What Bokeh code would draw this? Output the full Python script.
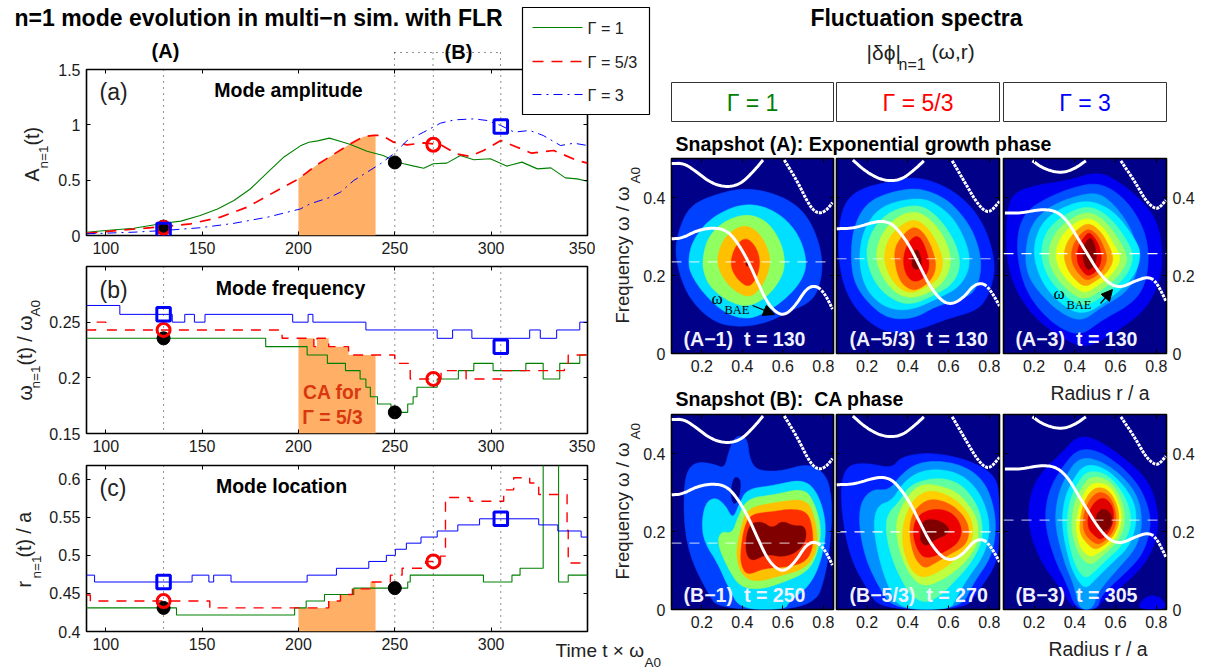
from math import pi
import numpy as np
from bokeh.plotting import figure
from bokeh.layouts import column
from bokeh.embed import file_html
from bokeh.resources import INLINE
from bokeh.core.properties import value
from bokeh.models import (Range1d, FixedTicker, LinearAxis, Span, InlineStyleSheet, Arrow, NormalHead)

# ---------- time traces ----------
X_TICKS = [100, 150, 200, 250, 300, 350]
X_LABELS_C = {100: "100", 150: "150", 200: "200", 250: "250", 300: "300", 350: ""}
A_TICKS = {0: "0", 0.5: "0.5", 1: "1", 1.5: "1.5"}
W_TICKS = {0.15: "0.15", 0.2: "0.2", 0.25: "0.25"}
R_TICKS = {0.4: "0.4", 0.45: "0.45", 0.5: "0.5", 0.55: "0.55", 0.6: "0.6"}
SNAP_TIMES = [130, 250, 270, 305]

amp_t_g = [90,100,114.6,130,139,149,158,166.5,175,184,192.5,201,205.4,210,216,222,227,235.6,244,249.4,254.6,260,265,270,277,284,291,299.6,308,316,324,331,338.5,344.6,350]
amp_g = [.03,.045,.066,.111,.13,.18,.24,.316,.42,.57,.71,.81,.843,.855,.88,.85,.822,.762,.723,.678,.648,.627,.608,.648,.654,.723,.684,.693,.627,.663,.602,.611,.521,.512,.491]
amp_t_r = [90,106,130,144,159.5,173.4,189,199.3,209.7,218.4,227,234,239,243.4,249.4,256.4,265,273.7,282,289,296,305,313.5,321,332.5,344.6,350]
amp_r = [.02,.045,.08,.105,.166,.256,.407,.503,.64,.735,.828,.895,.904,.904,.843,.819,.837,.822,.738,.714,.768,.858,.798,.744,.768,.678,.654]
amp_t_b = [90,114.6,130,149,166.5,184,201,206,216.6,221.8,228.7,235.6,242.5,249.4,256.4,265,273.7,281,291,298,305,312,320,327,336,343,350]
amp_b = [.015,.03,.045,.07,.11,.166,.24,.286,.346,.392,.497,.572,.648,.738,.858,.934,1.015,1.045,1.054,1.039,.994,.934,.949,.904,.813,.834,.813]

frq_t_g = [90,183,204.5,215,224.4,232,235,237.3,241,248,256.7,259.5,261.5,272,283,291,301,318,327,335.6,346,350]
frq_g = [.2355,.228,.2205,.213,.2065,.199,.1915,.183,.1765,.169,.1765,.183,.1915,.199,.2065,.213,.2065,.213,.199,.213,.2205]
frq_t_r = [90,94.7,100,191.5,208,209.6,215.7,226,250,258,274,287,306,338,340,350]
frq_r = [.243,.25,.243,.2355,.228,.2355,.228,.2205,.213,.199,.2065,.199,.2065,.213,.2205]
frq_t_b = [90,107.3,134.5,141,146,151.5,197,205,207.5,235,272,280,290,320,325.5,334,346,350]
frq_b = [.265,.257,.25,.257,.25,.257,.25,.257,.25,.243,.2355,.243,.2355,.243,.2355,.243,.25]

loc_t_g = [90,136.7,198,204,213.5,228.7,256.7,258,296,310.8,315,327,335,340,350]
loc_g = [.431,.4216,.431,.44,.4485,.457,.465,.474,.465,.474,.483,.7,.465,.474]
loc_t_r = [90,92,154,215.7,221.8,228,237.3,247.7,253.8,266,273.7,276.3,289,306.5,311.7,320,324.7,339.4,340,350]
loc_r = [.448,.44,.431,.44,.4485,.456,.465,.474,.483,.492,.499,.576,.571,.586,.602,.595,.58,.533,.49]
loc_t_b = [90,94.2,144.8,153.5,156,165,204.5,219.7,236.5,245.6,250.3,256,263.6,272,282.7,294,324.7,334.6,346.7,350]
loc_b = [.474,.465,.474,.465,.474,.465,.474,.483,.492,.5,.508,.516,.524,.532,.54,.548,.54,.532,.524]

mark_a = {"g": [(130, .08), (250, .66)], "r": [(130, .07), (270, .82)], "b": [(130, .05), (305, .985)]}
mark_w = {"g": [(130, .2355), (250, .169)], "r": [(130, .243), (270, .199)], "b": [(130, .257), (305, .228)]}
mark_l = {"g": [(130, .431), (250, .457)], "r": [(130, .44), (270, .492)], "b": [(130, .465), (305, .548)]}
CA_WINDOW = (200, 240)

# ---------- continuum curves (r, omega) ----------
G1_up_l = [(.05,.487),(.112,.488),(.178,.464),(.243,.438),(.317,.426),(.391,.434),(.457,.468),(.502,.496)]
G1_up_r = [(.607,.496),(.67,.443),(.719,.391),(.752,.366),(.784,.359),(.817,.368),(.845,.387)]
G1_main = [(.05,.294),(.104,.296),(.178,.316),(.26,.323),(.325,.315),(.375,.285),(.424,.242),(.473,.186),(.522,.131),(.571,.103),(.612,.099),(.661,.122),(.719,.169),(.768,.174),(.809,.152),(.845,.114)]
G2_up_l = [(.13,.496),(.2,.464),(.28,.443),(.364,.444),(.43,.47),(.479,.494)]
G2_up_r = [(.618,.494),(.675,.443),(.733,.391),(.774,.366),(.806,.363),(.85,.39)]
G2_main = [(.05,.32),(.135,.321),(.25,.34),(.315,.336),(.364,.31),(.413,.272),(.462,.22),(.512,.169),(.569,.133),(.618,.126),(.675,.144),(.724,.176),(.774,.181),(.814,.156),(.85,.122)]
G3_up_l = [(.192,.494),(.25,.473),(.331,.462),(.397,.473),(.454,.494)]
G3_up_r = [(.626,.494),(.692,.443),(.749,.391),(.79,.372),(.814,.373),(.847,.393)]
G3_main = [(.057,.36),(.135,.36),(.233,.37),(.307,.366),(.364,.34),(.413,.297),(.462,.255),(.512,.212),(.569,.178),(.626,.169),(.692,.185),(.757,.197),(.798,.186),(.847,.135)]
BAE_LEVELS = {"A1": .235, "A2": .243, "A3": .256, "B1": .17, "B2": .199, "B3": .229}

# ---------- contour outlines (r, omega) ----------
A1 = [
 [(.066,.272),(.096,.332),(.145,.379),(.243,.404),(.407,.426),(.571,.409),(.686,.374),(.752,.323),(.793,.255),(.793,.195),(.752,.135),(.62,.105),(.522,.079),(.391,.067),(.26,.079),(.145,.135),(.088,.203)],
 [(.132,.238),(.153,.289),(.243,.349),(.407,.387),(.555,.37),(.67,.315),(.722,.238),(.694,.186),(.604,.135),(.489,.097),(.407,.088),(.309,.105),(.211,.152),(.145,.203)],
 [(.202,.238),(.227,.297),(.309,.34),(.424,.359),(.522,.34),(.588,.289),(.612,.238),(.596,.195),(.522,.144),(.424,.118),(.325,.135),(.243,.169),(.211,.203)],
 [(.271,.238),(.301,.289),(.358,.319),(.424,.33),(.489,.306),(.53,.263),(.539,.229),(.506,.178),(.44,.141),(.358,.161),(.301,.195)],
 [(.342,.238),(.366,.276),(.416,.299),(.465,.276),(.489,.238),(.473,.195),(.432,.169),(.383,.186),(.35,.212)],
 [(.415,.235),(.43,.24),(.435,.228),(.42,.222)],
]
A2 = [
 [(.056,.26),(.066,.345),(.102,.397),(.184,.426),(.299,.439),(.43,.454),(.561,.435),(.675,.397),(.757,.345),(.806,.285),(.831,.217),(.798,.149),(.741,.11),(.593,.089),(.446,.059),(.299,.05),(.168,.097),(.086,.166)],
 [(.119,.251),(.135,.328),(.2,.388),(.315,.414),(.446,.425),(.561,.405),(.643,.371),(.725,.311),(.765,.234),(.741,.166),(.675,.14),(.544,.123),(.43,.089),(.299,.089),(.2,.132),(.135,.183)],
 [(.16,.251),(.184,.32),(.266,.379),(.446,.401),(.544,.384),(.643,.337),(.716,.243),(.667,.174),(.544,.14),(.413,.11),(.299,.115),(.217,.149),(.176,.191)],
 [(.192,.251),(.217,.311),(.299,.362),(.438,.384),(.528,.362),(.618,.303),(.664,.234),(.626,.179),(.528,.149),(.413,.123),(.315,.14),(.233,.183)],
 [(.241,.251),(.266,.303),(.34,.35),(.438,.367),(.52,.341),(.585,.294),(.618,.234),(.577,.183),(.512,.157),(.413,.14),(.331,.157),(.266,.204)],
 [(.282,.251),(.307,.298),(.372,.332),(.438,.345),(.495,.324),(.544,.285),(.577,.234),(.552,.191),(.487,.17),(.413,.153),(.348,.17),(.299,.209)],
 [(.331,.251),(.348,.285),(.405,.32),(.446,.324),(.487,.303),(.52,.268),(.541,.226),(.52,.191),(.462,.166),(.413,.162),(.356,.187)],
 [(.377,.243),(.394,.277),(.43,.301),(.462,.298),(.492,.264),(.508,.226),(.487,.196),(.438,.183),(.405,.192),(.384,.213)],
 [(.418,.234),(.43,.264),(.449,.268),(.466,.243),(.466,.221),(.443,.215),(.425,.219)],
]
A3 = [
 [(.078,.391),(.119,.417),(.233,.434),(.364,.443),(.512,.467),(.61,.443),(.692,.409),(.773,.366),(.819,.315),(.831,.229),(.806,.169),(.741,.109),(.61,.058),(.454,.011),(.332,.041),(.2,.092),(.111,.161),(.07,.229),(.061,.315)],
 [(.111,.289),(.151,.362),(.266,.4),(.397,.427),(.512,.438),(.61,.413),(.692,.366),(.749,.306),(.765,.238),(.741,.169),(.675,.126),(.528,.084),(.43,.045),(.315,.067),(.2,.126),(.135,.195)],
 [(.155,.255),(.184,.332),(.282,.38),(.413,.405),(.512,.413),(.593,.383),(.675,.323),(.716,.255),(.7,.195),(.642,.152),(.528,.118),(.43,.08),(.315,.109),(.217,.161),(.168,.203)],
 [(.192,.255),(.225,.327),(.315,.37),(.462,.396),(.593,.366),(.692,.297),(.728,.255),(.692,.195),(.561,.135),(.438,.097),(.332,.126),(.241,.178)],
 [(.23,.255),(.258,.315),(.348,.357),(.466,.381),(.569,.353),(.659,.289),(.692,.246),(.651,.195),(.544,.148),(.443,.118),(.348,.148),(.266,.195)],
 [(.266,.255),(.295,.306),(.372,.344),(.466,.366),(.552,.34),(.626,.285),(.664,.242),(.618,.199),(.528,.161),(.443,.135),(.356,.165),(.291,.208)],
 [(.302,.255),(.328,.297),(.389,.332),(.466,.35),(.536,.327),(.593,.28),(.629,.242),(.585,.203),(.512,.174),(.446,.152),(.372,.182),(.323,.216)],
 [(.345,.255),(.364,.289),(.413,.319),(.467,.336),(.525,.315),(.569,.276),(.593,.242),(.561,.208),(.503,.186),(.449,.169),(.389,.195),(.356,.225)],
 [(.381,.255),(.397,.285),(.43,.308),(.471,.321),(.515,.302),(.544,.272),(.561,.242),(.536,.212),(.495,.195),(.454,.186),(.413,.208),(.389,.229)],
 [(.41,.255),(.422,.28),(.446,.299),(.471,.312),(.503,.293),(.523,.272),(.533,.242),(.515,.216),(.487,.203),(.459,.199),(.43,.216),(.413,.233)],
 [(.438,.255),(.446,.28),(.474,.299),(.495,.285),(.508,.25),(.498,.225),(.466,.212),(.446,.229)],
]
B1 = [
 [(.112,.318),(.132,.361),(.178,.379),(.26,.373),(.312,.361),(.334,.408),(.366,.446),(.424,.442),(.435,.386),(.473,.356),(.588,.354),(.719,.374),(.793,.356),(.834,.318),(.845,.232),(.817,.096),(.752,0),(.284,0),(.227,.044),(.145,.13),(.112,.215)],
 [(.35,.326),(.366,.342),(.394,.331),(.383,.284),(.358,.267),(.342,.292)],
 [(.199,.224),(.219,.275),(.268,.288),(.317,.267),(.353,.23),(.388,.275),(.424,.309),(.555,.318),(.702,.335),(.776,.297),(.817,.215),(.793,.13),(.735,.062),(.629,.019),(.612,0),(.391,0),(.334,.053),(.276,.121),(.211,.173)],
 [(.276,.168),(.293,.201),(.35,.194),(.378,.237),(.424,.285),(.555,.294),(.702,.311),(.752,.279),(.793,.207),(.768,.138),(.719,.096),(.604,.07),(.489,.051),(.391,.057),(.334,.1)],
 [(.366,.138),(.391,.207),(.424,.26),(.555,.274),(.719,.285),(.759,.232),(.773,.173),(.752,.13),(.686,.1),(.588,.087),(.473,.07),(.399,.085)],
 [(.391,.147),(.407,.207),(.44,.245),(.555,.251),(.637,.258),(.722,.251),(.747,.207),(.748,.156),(.711,.121),(.62,.109),(.506,.106),(.424,.087),(.394,.113)],
 [(.412,.156),(.432,.22),(.498,.226),(.547,.207),(.596,.228),(.653,.214),(.711,.215),(.716,.177),(.67,.147),(.596,.134),(.522,.143),(.44,.121)],
]
B2 = [
 [(.07,.301),(.086,.352),(.127,.374),(.217,.374),(.323,.362),(.364,.391),(.495,.403),(.643,.391),(.757,.369),(.831,.339),(.85,.292),(.85,.156),(.822,.104),(.741,.044),(.683,0),(.266,0),(.2,.053),(.127,.121),(.086,.207)],
 [(.16,.215),(.168,.275),(.225,.309),(.307,.305),(.364,.344),(.438,.374),(.544,.382),(.675,.369),(.773,.331),(.822,.267),(.834,.198),(.806,.13),(.724,.07),(.659,0),(.332,0),(.258,.057),(.192,.13)],
 [(.23,.215),(.25,.267),(.323,.279),(.372,.322),(.446,.352),(.544,.361),(.659,.348),(.741,.309),(.79,.254),(.803,.198),(.774,.138),(.692,.079),(.634,.027),(.61,0),(.364,0),(.307,.053),(.258,.13)],
 [(.29,.215),(.307,.25),(.356,.275),(.413,.322),(.544,.339),(.651,.326),(.724,.284),(.765,.233),(.765,.173),(.708,.117),(.626,.07),(.561,.036),(.487,.015),(.413,.036),(.348,.096),(.307,.156)],
 [(.34,.207),(.356,.25),(.413,.301),(.471,.322),(.553,.318),(.643,.301),(.716,.258),(.749,.215),(.741,.164),(.675,.117),(.593,.083),(.487,.057),(.421,.079),(.364,.138)],
 [(.372,.198),(.389,.241),(.43,.284),(.495,.305),(.561,.301),(.643,.279),(.7,.245),(.724,.207),(.708,.164),(.643,.134),(.577,.104),(.479,.079),(.421,.096),(.38,.147)],
 [(.405,.198),(.421,.245),(.471,.275),(.528,.284),(.61,.271),(.675,.241),(.705,.203),(.684,.164),(.61,.143),(.528,.117),(.479,.104),(.43,.134)],
 [(.425,.198),(.438,.232),(.487,.254),(.569,.258),(.634,.241),(.667,.207),(.651,.173),(.593,.151),(.52,.134),(.471,.134),(.438,.164)],
 [(.462,.198),(.471,.228),(.528,.232),(.585,.22),(.605,.203),(.585,.19),(.536,.181),(.495,.162),(.462,.173)],
]
B3 = [
 [(.708,0),(.732,.027),(.782,.038),(.831,.027),(.85,0)],
 [(.168,.215),(.181,.301),(.241,.356),(.332,.399),(.413,.446),(.503,.438),(.626,.395),(.741,.344),(.798,.284),(.814,.207),(.765,.13),(.659,.07),(.528,.019),(.512,0),(.394,0),(.332,.053),(.233,.121)],
 [(.25,.224),(.269,.301),(.332,.361),(.413,.412),(.512,.408),(.626,.369),(.716,.318),(.765,.258),(.773,.207),(.732,.138),(.626,.083),(.528,.036),(.512,0),(.405,0),(.364,.062),(.299,.13)],
 [(.302,.215),(.312,.284),(.356,.344),(.422,.391),(.528,.382),(.642,.339),(.716,.284),(.732,.215),(.7,.156),(.61,.104),(.512,.044),(.487,0),(.422,0),(.397,.062),(.348,.121)],
 [(.335,.215),(.348,.284),(.389,.331),(.446,.373),(.544,.365),(.642,.318),(.7,.267),(.7,.207),(.659,.156),(.585,.121),(.495,.074),(.454,.053),(.413,.074),(.372,.121)],
 [(.359,.215),(.372,.275),(.413,.326),(.462,.356),(.552,.35),(.626,.309),(.672,.258),(.675,.207),(.626,.16),(.561,.13),(.495,.096),(.454,.079),(.413,.1),(.381,.147)],
 [(.381,.215),(.397,.275),(.438,.318),(.479,.342),(.561,.335),(.618,.297),(.646,.25),(.642,.207),(.602,.168),(.528,.134),(.479,.113),(.43,.13),(.397,.173)],
 [(.405,.215),(.422,.267),(.454,.309),(.495,.326),(.569,.32),(.61,.284),(.634,.237),(.61,.19),(.569,.164),(.512,.143),(.471,.134),(.43,.156),(.413,.185)],
 [(.422,.215),(.438,.267),(.471,.3),(.512,.315),(.569,.306),(.61,.267),(.619,.224),(.593,.19),(.544,.164),(.495,.152),(.454,.173),(.43,.19)],
 [(.438,.215),(.449,.258),(.487,.292),(.528,.303),(.577,.288),(.602,.25),(.602,.215),(.569,.185),(.52,.166),(.487,.173),(.454,.19)],
 [(.462,.224),(.471,.254),(.503,.279),(.544,.288),(.585,.267),(.593,.232),(.569,.198),(.528,.177),(.495,.19),(.471,.203)],
 [(.503,.232),(.512,.25),(.544,.26),(.58,.245),(.585,.22),(.561,.203),(.528,.198),(.508,.211)],
]
R_TICK_LABELS = {0.2: "0.2", 0.4: "0.4", 0.6: "0.6", 0.8: "0.8"}
F_TICK_LABELS = {0: "0", 0.2: "0.2", 0.4: "0.4"}

# ---------- styles ----------
NAVY = "#000088"
BLUE_L = "#0040FF"
COL_6 = [BLUE_L, "#00DFFF", "#90FF60", "#FFC000", "#FF3000", "#800000"]
COL_B1 = [BLUE_L, NAVY, "#00DFFF", "#90FF60", "#FFC000", "#FF3000", "#800000"]
COL_9 = ["#0020FF", "#0090FF", "#00E8FF", "#60FF9F", "#BFFF40", "#FFCF00", "#FF6000", "#EF0000", "#800000"]
COL_11 = ["#0000F0", "#0050FF", "#00A0FF", "#00F0FF", "#50FFAF", "#A0FF60", "#F0FF10", "#FFA000", "#FF5000", "#E00000", "#800000"]
GREEN, RED, BLUE, ORANGE = "#008000", "#FF0000", "#0000FF", "#FFAF66"
SANS = "Liberation Sans"
SERIF = "Liberation Serif"


def chaikin(pts, n=3, closed=True):
    a = np.array(pts, float)
    for _ in range(n):
        if closed:
            b = np.roll(a, -1, axis=0)
            a = np.column_stack([.75 * a + .25 * b, .25 * a + .75 * b]).reshape(-1, 2)
        else:
            q = .75 * a[:-1] + .25 * a[1:]
            r = .25 * a[:-1] + .75 * a[1:]
            a = np.vstack([a[:1], np.column_stack([q, r]).reshape(-1, 2), a[-1:]])
    return a


def place(p, x0, y0, x1, y1, ml, mr, mt, mb):
    p.width = int(x1 - x0 + ml + mr)
    p.height = int(y1 - y0 + mt + mb)
    p.min_border_left, p.min_border_right = ml, mr
    p.min_border_top, p.min_border_bottom = mt, mb
    p.frame_align = False
    css = ":host{position:absolute!important;left:%dpx!important;top:%dpx!important;}" % (x0 - ml, y0 - mt)
    p.stylesheets = [InlineStyleSheet(css=css)]


def style_axes(p, xticks, xlabels, yticks, ylabels, show_left=True, show_right=False, show_bottom=True, tick_size="16px"):
    def cfg(ax, ticks, labels, show):
        ax.ticker = FixedTicker(ticks=list(ticks))
        ax.major_tick_in, ax.major_tick_out = 4, 0
        ax.minor_tick_line_color = None
        ax.axis_line_color = None
        ax.major_tick_line_color = "black"
        ax.major_label_text_font = SANS
        ax.major_label_text_color = "#1a1a1a"
        ax.major_label_text_font_size = tick_size if show else "0px"
        ax.major_label_standoff = 6 if show else 0
        if not show:
            ax.major_label_text_color = None
        if labels and show:
            ax.major_label_overrides = dict(labels)
        if not show:
            ax.major_label_overrides = {t: "" for t in ticks}
    p.grid.visible = False
    left = LinearAxis(); right = LinearAxis(); below = LinearAxis(); above = LinearAxis()
    cfg(left, yticks, ylabels, show_left); cfg(right, yticks, ylabels, show_right)
    cfg(below, xticks, xlabels, show_bottom); cfg(above, xticks, xlabels, False)
    p.add_layout(left, "left"); p.add_layout(right, "right")
    p.add_layout(below, "below"); p.add_layout(above, "above")
    p.outline_line_color = "black"
    p.outline_line_width = 1.6
    p.background_fill_color = "white"
    p.border_fill_color = None


def new_fig(xr, yr):
    return figure(x_range=Range1d(*xr), y_range=Range1d(*yr), x_axis_type=None, y_axis_type=None,
                  toolbar_location=None, output_backend="svg")


def step_under(t, v, lo, hi):
    xs, ys = [], []
    for i, val in enumerate(v):
        a, b = max(t[i], lo), min(t[i + 1], hi)
        if b > a:
            xs += [a, b]; ys += [val, val]
    return xs, ys


def time_panel(frame, yr, yticks, series, marks, stepped, xlabels=None):
    p = new_fig((90, 350), yr)
    place(p, 86, frame[0], 587, frame[1], 70, 8, 8, 26)
    style_axes(p, X_TICKS, xlabels, list(yticks), yticks)
    tg, g, tr, r, tb, b = series
    lo, hi = CA_WINDOW
    if stepped:
        xs, ys = step_under(tr, r, lo, hi)
    else:
        xs = [lo] + [x for x in tr if lo < x < hi] + [hi]
        ys = list(np.interp(xs, tr, r))
    p.varea(x=xs, y1=[yr[0]] * len(xs), y2=ys, fill_color=ORANGE)
    for t in SNAP_TIMES:
        p.add_layout(Span(location=t, dimension="height", line_color="#222222", line_dash="1 5", line_width=1))
    if stepped:
        p.step(tg, g + g[-1:], mode="after", line_color=GREEN, line_width=1.1)
        p.step(tr, r + r[-1:], mode="after", line_color=RED, line_width=1.4, line_dash="10 8")
        p.step(tb, b + b[-1:], mode="after", line_color=BLUE, line_width=1)
    else:
        p.line(tg, g, line_color=GREEN, line_width=1.1)
        p.line(tr, r, line_color=RED, line_width=1.7, line_dash="11 8")
        p.line(tb, b, line_color=BLUE, line_width=1, line_dash="9 5 2 5")
    p.scatter(*zip(*marks["g"]), marker="circle", size=13, fill_color="black", line_color="black")
    p.scatter(*zip(*marks["r"]), marker="circle", size=13, fill_color=None, line_color=RED, line_width=3)
    p.scatter(*zip(*marks["b"]), marker="square", size=13.5, fill_color=None, line_color=BLUE, line_width=3)
    return p


def spectrum(x0, x1, y0, y1, contours, colors, curves, level, left, right, dash_color, dash_alpha):
    p = new_fig((.05, .85), (0, .5))
    place(p, x0, y0, x1, y1, 42, 42, 6, 26)
    style_axes(p, list(R_TICK_LABELS), R_TICK_LABELS, list(F_TICK_LABELS), F_TICK_LABELS, show_left=left, show_right=right)
    p.background_fill_color = NAVY
    for pts, c in zip(contours, colors):
        s = chaikin(pts)
        p.patch(s[:, 0], s[:, 1], fill_color=c, line_color=c, line_width=.5)
    ul, ur, m = curves
    s = chaikin(ul, closed=False)
    p.line(s[:, 0], s[:, 1], line_color="white", line_width=3)
    s = chaikin(ur, closed=False)
    p.line(s[:, 0], s[:, 1], line_color="white", line_width=3, line_dash="3 1")
    s = chaikin(m, closed=False)
    k = s[:, 0] <= .79
    p.line(s[k, 0], s[k, 1], line_color="white", line_width=3)
    p.line(s[~k, 0], s[~k, 1], line_color="white", line_width=3, line_dash="3 1")
    p.line([.05, .85], [level, level], line_color=dash_color, line_alpha=dash_alpha, line_width=1.2, line_dash="10 8")
    return p


# ---------- build ----------
pa = time_panel((69, 235), (0, 1.5), A_TICKS, (amp_t_g, amp_g, amp_t_r, amp_r, amp_t_b, amp_b), mark_a, False)
pb = time_panel((266, 433), (.15, .3), W_TICKS, (frq_t_g, frq_g, frq_t_r, frq_r, frq_t_b, frq_b), mark_w, True)
pc = time_panel((465, 631), (.4, .618), R_TICKS, (loc_t_g, loc_g, loc_t_r, loc_r, loc_t_b, loc_b), mark_l, True, X_LABELS_C)

C1 = (G1_up_l, G1_up_r, G1_main)
C2 = (G2_up_l, G2_up_r, G2_main)
C3 = (G3_up_l, G3_up_r, G3_main)
XS = [(671, 833), (836, 999), (1003, 1166)]
specs = [
    spectrum(*XS[0], 158, 353, A1, COL_6, C1, BAE_LEVELS["A1"], True, False, "white", .7),
    spectrum(*XS[1], 158, 353, A2, COL_9, C2, BAE_LEVELS["A2"], False, False, "white", .7),
    spectrum(*XS[2], 158, 353, A3, COL_11, C3, BAE_LEVELS["A3"], False, True, "white", 1),
    spectrum(*XS[0], 414, 609, B1, COL_B1, C1, BAE_LEVELS["B1"], True, False, "white", .65),
    spectrum(*XS[1], 414, 609, B2, COL_9, C2, BAE_LEVELS["B2"], False, False, "white", 1),
    spectrum(*XS[2], 414, 609, B3, ["#0000F0"] + COL_11, C3, BAE_LEVELS["B3"], False, True, "white", .65),
]

# overlay in page pixels: titles, legend, labels
ov = figure(x_range=Range1d(0, 1205), y_range=Range1d(671, 0), x_axis_type=None, y_axis_type=None,
            toolbar_location=None, output_backend="svg", width=1205, height=671,
            min_border=0, outline_line_color=None, background_fill_color=None, border_fill_color=None)
ov.frame_align = False
ov.grid.visible = False
ov.stylesheets = [InlineStyleSheet(css=":host{position:absolute!important;left:0px!important;top:0px!important;flex:none!important;min-width:1205px!important;min-height:671px!important;}")]


def txt(x, y, s, size=16, bold=False, color="black", align="left", angle=0, font=SANS):
    ov.text([x], [y], text=[s], text_font=value(font), text_font_size="%.1fpx" % size,
            text_font_style="bold" if bold else "normal", text_color=color, text_align=align,
            text_baseline="middle", angle=angle)


txt(14, 17, "n=1 mode evolution in multi\u2212n sim. with FLR", 23, True)
txt(165, 50, "(A)", 20, True, align="center")
txt(458, 51, "(B)", 20, True, align="center")
for x in (394, 432.5, 500):
    ov.line([x, x], [52, 69], line_color="#222222", line_dash="1 5")
ov.line([394, 500], [52, 52], line_color="#222222", line_dash="1 5")

txt(99, 91, "(a)", 23, color="#222222")
txt(99, 289, "(b)", 23, color="#222222")
txt(99, 487, "(c)", 23, color="#222222")
txt(288, 89, "Mode amplitude", 19.5, True, align="center")
txt(290, 287, "Mode frequency", 19.5, True, align="center")
txt(281, 485, "Mode location", 19.5, True, align="center")
txt(332, 392, "CA for", 19.3, True, "#D9380F", "center")
txt(332, 417, "\u0393 = 5/3", 19.3, True, "#D9380F", "center")

# left y labels
up = pi / 2
txt(31, 181, "A", 19.5, color="#222222", angle=up)
txt(43, 168, "n=1", 13.5, color="#222222", angle=up)
txt(31, 145, "(t)", 19.5, color="#222222", angle=up)
txt(24, 400, "\u03c9", 19.5, color="#222222", angle=up)
txt(35, 388, "n=1", 13.5, color="#222222", angle=up)
txt(24, 365, "(t) / \u03c9", 19.5, color="#222222", angle=up)
txt(35, 316, "A0", 13.5, color="#222222", angle=up)
txt(23, 587, "r", 19.5, color="#222222", angle=up)
txt(36, 578, "n=1", 13.5, color="#222222", angle=up)
txt(23, 557, "(t) / a", 19.5, color="#222222", angle=up)
txt(555, 650, "Time t \u00d7 \u03c9", 19, color="#222222")
txt(644, 662, "A0", 13.5, color="#222222")

# legend
ov.quad(left=[522], right=[649], top=[7], bottom=[114], fill_color="white", line_color="black", line_width=1.2)
ov.line([532, 582], [27, 27], line_color=GREEN, line_width=1.1)
ov.line([532, 582], [61, 61], line_color=RED, line_width=1.7, line_dash="11 8")
ov.line([532, 582], [94, 94], line_color=BLUE, line_width=1, line_dash="9 5 2 5")
txt(587, 27, "\u0393 = 1", 16.2, color="#222222")
txt(587, 61, "\u0393 = 5/3", 16.2, color="#222222")
txt(587, 94, "\u0393 = 3", 16.2, color="#222222")

# right header
txt(916, 17, "Fluctuation spectra", 23, True, align="center")
txt(866, 52, "|\u03b4\u03d5|", 21, color="#222222")
txt(898, 64, "n=1", 16, color="#222222")
txt(931, 51, "(\u03c9,r)", 21, color="#222222")
for (a, b), s, c in zip(XS, ("\u0393 = 1", "\u0393 = 5/3", "\u0393 = 3"), (GREEN, RED, BLUE)):
    ov.quad(left=[a], right=[b], top=[82], bottom=[121], fill_color="white", line_color="#333333", line_width=1)
    txt((a + b) / 2, 102, s, 23, color=c, align="center")
txt(675, 143, "Snapshot (A): Exponential growth phase", 19.5, True)
txt(675, 398, "Snapshot (B): \u00a0CA phase", 19.5, True)

for x, s in zip((683, 849, 1015), ("(A\u22121) \u00a0t = 130", "(A\u22125/3) \u00a0t = 130", "(A\u22123) \u00a0t = 130")):
    txt(x, 338, s, 19.6, True, "#F0F0FF")
for x, s in zip((683, 849, 1015), ("(B\u22121) \u00a0t = 250", "(B\u22125/3) \u00a0t = 270", "(B\u22123) \u00a0t = 305")):
    txt(x, 594, s, 19.6, True, "#F0F0FF")

for dy in (0, 256):
    txt(622, 323 + dy, "Frequency \u03c9 / \u03c9", 18.5, color="#222222", angle=up)
    txt(635, 183 + dy, "A0", 13.5, color="#222222", angle=up)
txt(1050, 392, "Radius r / a", 19.4, color="#222222")
txt(1048, 648, "Radius r / a", 19.4, color="#222222")

# omega_BAE pointers
txt(711, 298, "\u03c9", 17, font=SERIF)
txt(724, 309, "BAE", 12.5, font=SERIF)
ov.add_layout(Arrow(end=NormalHead(size=11, fill_color="black", line_color="black"), x_start=752, y_start=305,
                    x_end=774, y_end=314, line_color="black", line_width=1.2))
txt(1053, 293, "\u03c9", 17, font=SERIF)
txt(1066, 304, "BAE", 12.5, font=SERIF)
ov.add_layout(Arrow(end=NormalHead(size=11, fill_color="black", line_color="black"), x_start=1100, y_start=303,
                    x_end=1112, y_end=289, line_color="black", line_width=1.2))

root = column(pa, pb, pc, *specs, ov, width=1189, height=655, sizing_mode="fixed")
open("out.html", "w").write(file_html(root, INLINE))
